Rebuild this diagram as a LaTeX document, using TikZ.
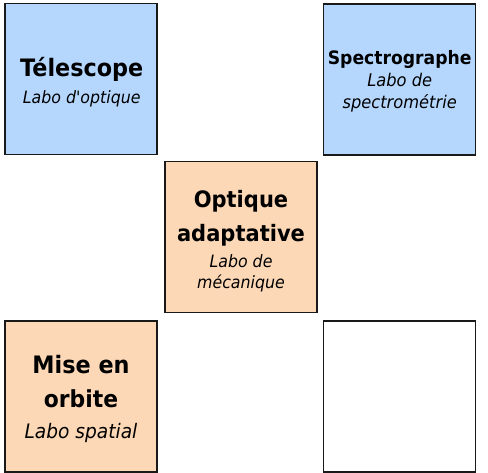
\documentclass[tikz,border=0pt]{standalone}
\usepackage{fontspec}
\newfontfamily\dvs{DejaVu Sans}[FakeStretch=0.93]
\definecolor{boxblue}{RGB}{181,215,254}
\definecolor{boxpeach}{RGB}{252,216,182}
\definecolor{edge}{RGB}{25,25,25}
\begin{document}
\begin{tikzpicture}[x=1pt,y=-1pt,
  cell/.style={draw=edge, line width=1.2pt, minimum width=152pt, minimum height=151pt, inner sep=0pt, outer sep=0pt},
  ttl/.style={anchor=base, inner sep=0pt, font=\dvs\bfseries\fontsize{#1}{#1}\selectfont},
  sub/.style={anchor=base, inner sep=0pt, font=\dvs\itshape\fontsize{#1}{#1}\selectfont}]
\useasboundingbox (0,0) rectangle (488,473);
% boxes
\node[cell, fill=boxblue]  (tel) at (81,79) {};
\node[cell, fill=boxblue]  (spe) at (399.5,79.5) {};
\node[cell, fill=boxpeach] (opt) at (241,237) {};
\node[cell, fill=boxpeach] (mis) at (81,396.5) {};
\node[cell, fill=white]    (emp) at (399.5,396.5) {};
% texts
\node[ttl=24] (tel1) at (81.7,76.7) {Télescope};
\node[sub=17] (tel2) at (81.7,103.3) {Labo d'optique};
\node[ttl=18.5] (spe1) at (399.7,65) {Spectrographe};
\node[sub=17.5] (spe2) at (399.7,86.7) {Labo de};
\node[sub=17.5] (spe3) at (399.7,108.3) {spectrométrie};
\node[ttl=22.6] (opt1) at (241,207.3) {Optique};
\node[ttl=22.6] (opt2) at (241,241.7) {adaptative};
\node[sub=17] (opt3) at (241,267.3) {Labo de};
\node[sub=17] (opt4) at (241,288.3) {mécanique};
\node[ttl=24] (mis1) at (81,374) {Mise en};
\node[ttl=23.5] (mis2) at (81,407.3) {orbite};
\node[sub=20] (mis3) at (81,438.3) {Labo spatial};
\end{tikzpicture}
\end{document}
